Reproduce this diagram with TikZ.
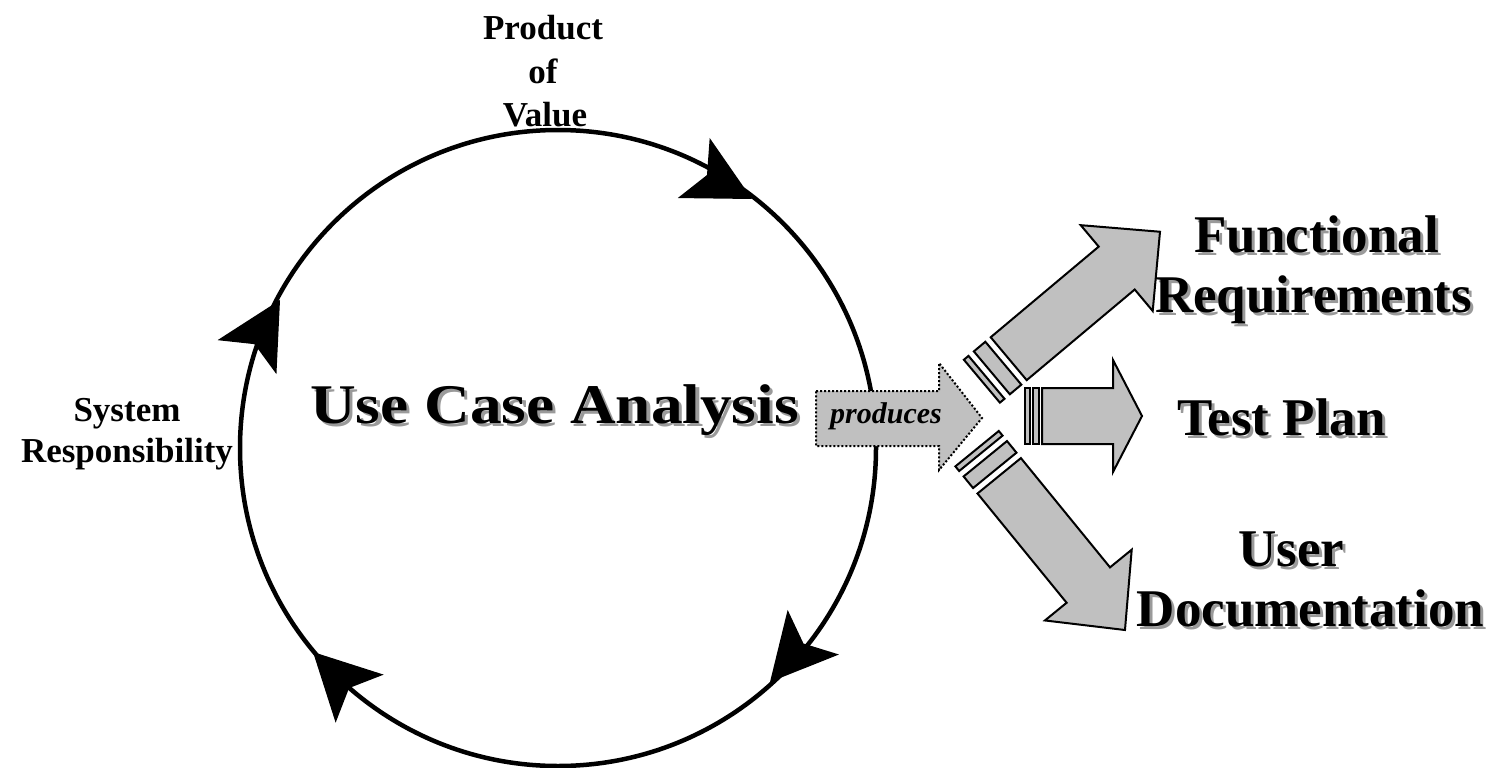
\documentclass[tikz,border=0pt]{standalone}
\usepackage{fontspec}
\setmainfont{Liberation Serif}
\definecolor{arrowgray}{HTML}{C0C0C0}
\definecolor{shadowgray}{HTML}{9A9A9A}

% Block arrow pointing along +x, tail at the origin, with two rings behind it.
% #1 shaft length, #2 head length, #3/#4 first ring, #5/#6 second ring
\newcommand\outarrow[6]{%
  \draw[blockarrow] (0,-28) -- (#1,-28) -- (#1,-56) -- ({#1+#2},0)
        -- (#1,56) -- (#1,28) -- (0,28) -- cycle;
  \draw[blockarrow] (#3,-28) rectangle (#4,28);
  \draw[blockarrow] (#5,-28) rectangle (#6,28);
}
% Notched head on the cycle, tip at the origin, pointing along +x
\newcommand\cyclehead{%
  \fill (0,0) -- (-66,34) -- (-51,0) -- (-66,-34) -- cycle;
}
% Text with a grey drop shadow down and to the right
\newcommand\dropshadow[1]{%
  \makebox[0pt][l]{\kern3pt\raisebox{-3pt}{\textcolor{shadowgray}{#1}}}#1}

\begin{document}
\begin{tikzpicture}[x=1pt,y=-1pt,
  every node/.style={inner sep=0pt, outer sep=0pt},
  small/.style={font=\bfseries\fontsize{35}{43}\selectfont, anchor=base},
  big/.style={font=\bfseries\fontsize{53}{60}\selectfont, anchor=base},
  huge/.style={font=\bfseries\fontsize{56}{64}\selectfont, anchor=base, xscale=1.13},
  blockarrow/.style={draw=black, line width=2pt, fill=arrowgray, line join=miter},
  producesarrow/.style={draw=black, line width=2pt, fill=arrowgray,
                        dash pattern=on 2pt off 2pt},
]
\useasboundingbox (0,0) rectangle (1499,768);

% the analysis cycle
\node[circle, draw, line width=4.5pt, minimum size=636pt] (cycle) at (558,448) {};
\begin{scope}[shift={(752,199)}, rotate=-28]\cyclehead\end{scope}
\begin{scope}[shift={(770,682)}, rotate=-131]\cyclehead\end{scope}
\begin{scope}[shift={(313,652)}, rotate=135]\cyclehead\end{scope}
\begin{scope}[shift={(280,300)}, rotate=60]\cyclehead\end{scope}

% labels on the cycle
\node[small] (product) at (543,40) {Product};
\node[small] (of) at (543,83) {of};
\node[small] (value) at (545,126) {Value};
\node[small] (system) at (127,421) {System};
\node[small] (resp) at (127,462) {Responsibility};

% title
\node[huge] (uca) at (554.5,423) {\dropshadow{Use Case Analysis}};

% "produces" arrow
\draw[producesarrow] (816,391) -- (939,391) -- (939,363) -- (982,418)
      -- (939,470) -- (939,446) -- (816,446) -- cycle;
\node[font=\bfseries\itshape\fontsize{30}{36}\selectfont, anchor=base]
      (produces) at (886,423) {produces};

% the three products
\begin{scope}[shift={(1008.7,358.7)}, rotate=40]\outarrow{141}{56.5}{-7}{-22}{-29}{-35}\end{scope}
\begin{scope}[shift={(1042,416)}]\outarrow{71}{29}{-3}{-9}{-12}{-17}\end{scope}
\begin{scope}[shift={(999.2,475.8)}, rotate=-50.8]\outarrow{141}{58}{-7}{-22}{-29}{-35}\end{scope}

\node[big] (fr1) at (1316.5,252) {\dropshadow{Functional}};
\node[big] (fr2) at (1313.5,312) {\dropshadow{Requirements}};
\node[big] (tp) at (1281.5,435) {\dropshadow{Test Plan}};
\node[big] (ud1) at (1291.5,566) {\dropshadow{User}};
\node[big] (ud2) at (1310.5,626) {\dropshadow{Documentation}};
\end{tikzpicture}
\end{document}
